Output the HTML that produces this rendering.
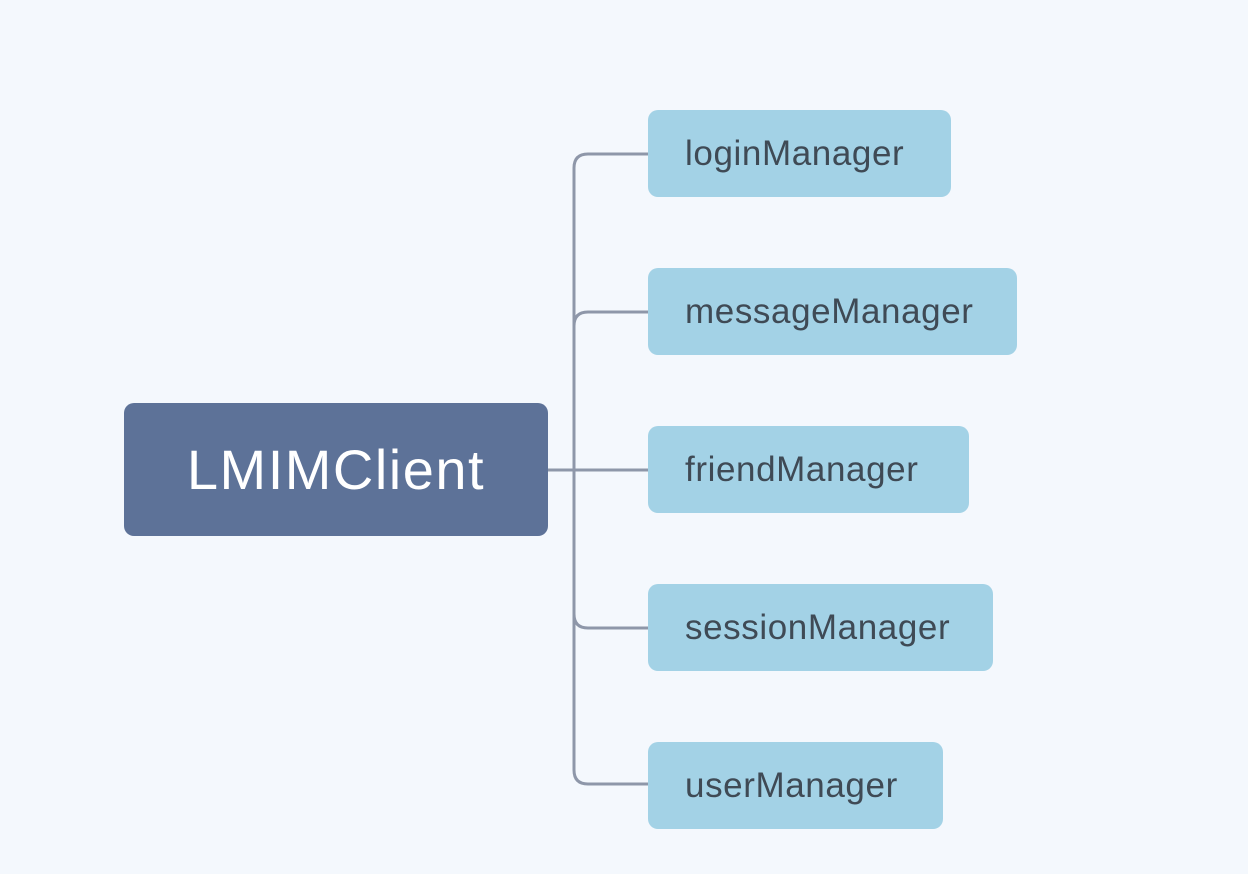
<!DOCTYPE html>
<html><head><style>
body{margin:0;width:1248px;height:874px;background:#f4f8fd;position:relative;overflow:hidden;font-family:"Liberation Sans",sans-serif}
.n{position:absolute;left:648px;height:87px;background:#a3d2e6;border-radius:10px;color:#3f4a55;font-size:35px;letter-spacing:0.6px;line-height:87px;padding-left:37px;box-sizing:border-box;white-space:nowrap}
.r{position:absolute;left:124px;top:403px;width:424px;height:133px;background:#5d7298;border-radius:10px;color:#fff;font-size:56px;letter-spacing:1.5px;line-height:133px;text-align:center}
</style></head><body>
<svg width="1248" height="874" style="position:absolute;left:0;top:0">
<g fill="none" stroke="#8e97a9" stroke-width="3">
<path d="M648 154 H588 Q574 154 574 168 V770 Q574 784 588 784 H648"/>
<path d="M648 312 H588 Q574 312 574 326"/>
<path d="M648 628 H588 Q574 628 574 614"/>
<path d="M548 470 H648"/>
</g></svg>
<div class="r">LMIMClient</div>
<div class="n" style="top:110px;width:303px">loginManager</div>
<div class="n" style="top:268px;width:369px">messageManager</div>
<div class="n" style="top:426px;width:321px">friendManager</div>
<div class="n" style="top:584px;width:345px">sessionManager</div>
<div class="n" style="top:742px;width:295px">userManager</div>
</body></html>
